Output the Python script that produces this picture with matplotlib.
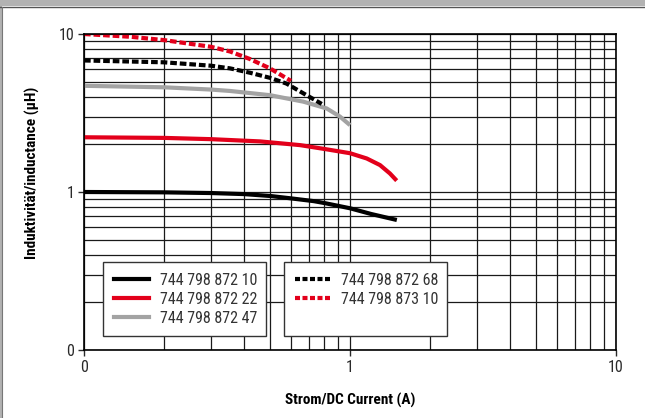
import matplotlib
matplotlib.use("Agg")
import matplotlib.pyplot as plt
from matplotlib.lines import Line2D
from matplotlib.patches import Rectangle
from matplotlib.ticker import FixedLocator, NullFormatter
import logging
logging.getLogger('matplotlib.font_manager').setLevel(logging.ERROR)

plt.rcParams['font.family'] = ['Roboto Condensed', 'Archivo Narrow', 'Liberation Sans', 'DejaVu Sans']

# ---- data ----
x_10 = [0.1, 0.2, 0.3, 0.4, 0.503, 0.598, 0.732, 0.805, 1.0, 1.2, 1.5]
y_10 = [1.0, 0.995, 0.985, 0.97, 0.943, 0.912, 0.875, 0.85, 0.789, 0.726, 0.665]

x_22 = [0.1, 0.2, 0.3, 0.46, 0.649, 0.805, 1.0, 1.156, 1.297, 1.413, 1.498]
y_22 = [2.22, 2.20, 2.16, 2.09, 1.98, 1.87, 1.76, 1.63, 1.48, 1.31, 1.18]

x_47 = [0.1, 0.2, 0.3, 0.354, 0.5, 0.668, 0.817, 0.917, 1.0]
y_47 = [4.70, 4.60, 4.45, 4.36, 4.10, 3.73, 3.38, 3.00, 2.65]

x_68 = [0.1, 0.2, 0.3, 0.354, 0.42, 0.5, 0.578, 0.668, 0.783]
y_68 = [6.80, 6.62, 6.30, 6.06, 5.69, 5.28, 4.85, 4.21, 3.61]

x_310 = [0.1, 0.15, 0.2, 0.3, 0.354, 0.42, 0.5, 0.578, 0.6]
y_310 = [10.0, 9.6, 9.15, 8.3, 7.75, 6.95, 6.06, 5.24, 5.05]

labels = ["744 798 872 10", "744 798 872 22", "744 798 872 47",
          "744 798 872 68", "744 798 873 10"]
x_ticks = [0.1, 1, 10]
x_ticklabels = ["0", "1", "10"]
y_ticks = [0.1, 1, 10]
y_ticklabels = ["0", "1", "10"]

RED = '#e3001b'
GRAY = '#a3a3a3'
BLACK = '#000000'

W, H = 645, 418
fig = plt.figure(figsize=(W / 100, H / 100), dpi=100)
fig.patch.set_facecolor('white')

# outer frame decoration
fig.patches.append(Rectangle((0, 1 - 6 / H), 1, 6 / H, transform=fig.transFigure,
                             facecolor='#b2b2b2', edgecolor='none'))
fig.lines.append(Line2D([0, 1], [1 - 6.5 / H, 1 - 6.5 / H], transform=fig.transFigure,
                        color='#555555', lw=1.0))
fig.patches.append(Rectangle((0, 0), 1.5 / W, 1 - 6 / H, transform=fig.transFigure,
                             facecolor='#b2b2b2', edgecolor='none'))
fig.lines.append(Line2D([2 / W, 2 / W], [0, 1 - 6.5 / H], transform=fig.transFigure,
                        color='#777777', lw=0.8))

L, R, T, B = 84, 616, 34, 350
ax = fig.add_axes([L / W, (H - B) / H, (R - L) / W, (B - T) / H])
ax.set_xscale('log')
ax.set_yscale('log')
ax.set_xlim(0.1, 10)
ax.set_ylim(0.1, 10)

ax.xaxis.set_major_locator(FixedLocator(x_ticks))
ax.yaxis.set_major_locator(FixedLocator(y_ticks))
ax.set_xticklabels(x_ticklabels)
ax.set_yticklabels(y_ticklabels)
minor = [m * d for d in (0.1, 1) for m in range(2, 10)]
ax.xaxis.set_minor_locator(FixedLocator(minor))
ax.yaxis.set_minor_locator(FixedLocator(minor))
ax.xaxis.set_minor_formatter(NullFormatter())
ax.yaxis.set_minor_formatter(NullFormatter())
ax.tick_params(which='minor', length=0)
ax.tick_params(which='major', length=4, width=1, direction='out',
               labelsize=11.5, colors='#2a2a2a', pad=3)
ax.grid(True, which='both', color='#1a1a1a', lw=0.9)
ax.set_axisbelow(True)
for s in ax.spines.values():
    s.set_color('black')
    s.set_linewidth(1.2)

lw = 3.0
dash = (1.6, 0.7)
ax.plot(x_10, y_10, color=BLACK, lw=lw, solid_capstyle='butt', solid_joinstyle='round')
ax.plot(x_22, y_22, color=RED, lw=lw, solid_capstyle='butt', solid_joinstyle='round')
ax.plot(x_47, y_47, color=GRAY, lw=lw, solid_capstyle='butt', solid_joinstyle='round')
ax.plot(x_68, y_68, color=BLACK, lw=lw, dashes=dash, dash_capstyle='butt')
ax.plot(x_310, y_310, color=RED, lw=lw, dashes=dash, dash_capstyle='butt')

ax.set_xlabel("Strom/DC Current (A)", fontsize=11, fontweight='bold', labelpad=13)
ax.set_ylabel("Induktivität/inductance (µH)", fontsize=11, fontweight='bold')
ax.yaxis.set_label_coords(-0.083, 0.56)

# legend boxes
box_y0 = (B - 336) / (B - T)
box_y1 = (B - 262) / (B - T)
for bx0, bx1 in [((103 - L) / (R - L), (266 - L) / (R - L)),
                 ((284 - L) / (R - L), (447 - L) / (R - L))]:
    ax.add_patch(Rectangle((bx0, box_y0), bx1 - bx0, box_y1 - box_y0,
                           transform=ax.transAxes, facecolor='white',
                           edgecolor='#333333', lw=1.0, zorder=5))

h1 = [Line2D([], [], color=BLACK, lw=3),
      Line2D([], [], color=RED, lw=3),
      Line2D([], [], color=GRAY, lw=3)]
h2 = [Line2D([], [], color=BLACK, lw=3, dashes=(1.2, 0.6)),
      Line2D([], [], color=RED, lw=3, dashes=(1.2, 0.6))]
leg_kw = dict(loc='upper left', frameon=False, fontsize=11.5, handlelength=2.2,
              handletextpad=0.7, labelspacing=0.25, borderaxespad=0, borderpad=0)
leg1 = ax.legend(h1, labels[:3],
                 bbox_to_anchor=((103 - L) / (R - L) + 0.021, box_y1 - 0.035), **leg_kw)
for t in leg1.get_texts():
    t.set_color('#333333')
leg1.set_zorder(6)
ax.add_artist(leg1)
leg2 = ax.legend(h2, labels[3:],
                 bbox_to_anchor=((284 - L) / (R - L) + 0.021, box_y1 - 0.035), **leg_kw)
for t in leg2.get_texts():
    t.set_color('#333333')
leg2.set_zorder(6)

fig.savefig("out.png", dpi=100)
